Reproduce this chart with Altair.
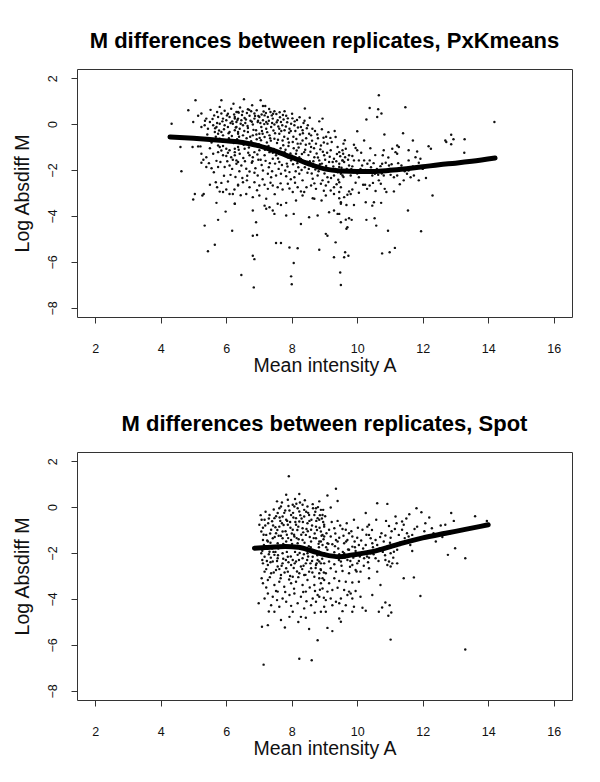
import altair as alt
import pandas as pd

# ---------------- data ----------------
top_pts = [
    (5.06, 1.04), (5.85, 1.04), (4.84, 0.60), (6.22, 0.89), (5.80, 0.75), (6.15, 0.67), (5.24, 0.46),
    (5.14, 0.36), (4.99, 0.09), (5.72, 0.53), (5.85, 0.46), (6.36, 0.53), (5.39, 0.24), (5.50, 0.09),
    (5.75, 0.31), (5.90, 0.24), (6.00, 0.17), (6.10, 0.31), (6.26, 0.24), (6.31, 0.09), (4.33, 0.02),
    (5.24, -0.13), (5.34, -0.05), (5.44, -0.20), (5.60, -0.05), (5.70, -0.13), (5.80, 0.02), (5.95, -0.05),
    (6.05, -0.13), (6.20, 0.02), (5.65, -0.34), (5.75, -0.42), (5.85, -0.34), (5.90, -0.49), (6.10, -0.34),
    (6.26, -0.27), (6.36, -0.34), (5.80, -0.64), (4.60, -1.00), (4.97, -1.00), (5.14, -0.97), (5.21, -0.97),
    (5.75, -0.93), (5.80, -1.00), (5.90, -0.95), (6.00, -1.07), (6.10, -1.14), (6.26, -1.07), (6.36, -1.00),
    (5.24, -1.29), (5.39, -1.44), (5.60, -1.29), (5.75, -1.22), (5.90, -1.36), (6.00, -1.39), (6.15, -1.44),
    (6.26, -1.36), (6.31, -1.58), (6.36, -1.65), (5.24, -1.68), (5.39, -1.87), (5.55, -1.92), (5.75, -1.87),
    (5.95, -1.87), (6.10, -1.80), (4.63, -2.05), (6.13, -2.21), (5.50, -2.64), (5.68, -2.53), (5.85, -2.56),
    (5.72, -2.75), (5.80, -2.94), (5.90, -2.96), (6.00, -2.85), (6.10, -3.04), (6.20, -3.04), (5.04, -3.04),
    (5.31, -3.04), (5.27, -3.11), (4.99, -3.28), (5.70, -3.43), (6.36, -2.67), (6.26, -3.47), (5.98, -3.81),
    (5.75, -4.17), (5.34, -4.42), (6.18, -4.64), (5.65, -5.25), (5.44, -5.54),
    (6.54, 1.08), (7.05, 1.04), (7.12, 0.79), (7.19, 0.79), (6.66, 0.65), (6.76, 0.56), (8.40, 0.68),
    (7.78, 0.56), (7.35, 0.53), (7.47, 0.56), (6.31, 0.53), (6.38, 0.50), (6.26, 0.31), (6.36, 0.24),
    (6.46, 0.17), (6.56, 0.27), (6.71, 0.36), (6.86, 0.24), (7.01, 0.31), (7.17, 0.38), (7.27, 0.31),
    (7.42, 0.24), (7.57, 0.17), (7.67, 0.09), (7.83, 0.36), (7.98, 0.02), (8.08, -0.05), (8.94, 0.24),
    (8.84, 0.12), (6.86, 0.46), (6.96, 0.09), (7.12, 0.17), (7.22, 0.09), (6.31, -0.13), (6.41, -0.20),
    (6.51, -0.05), (6.66, -0.17), (6.81, -0.02), (6.91, -0.27), (7.07, -0.13), (7.22, -0.20), (7.37, -0.13),
    (7.47, -0.02), (7.62, -0.20), (7.78, -0.27), (7.93, -0.20), (8.28, -0.13), (8.33, -0.27), (8.53, -0.42),
    (8.59, -0.49), (8.97, -0.59), (9.34, -0.56), (6.36, -0.42), (6.51, -0.49), (6.66, -0.34), (6.81, -0.49),
    (7.01, -0.42), (7.17, -0.56), (7.32, -0.49), (7.47, -0.64), (7.62, -0.42), (7.72, -0.71), (7.88, -0.64),
    (8.03, -0.78), (8.18, -0.85), (8.33, -0.71), (8.43, -0.90), (8.59, -1.00), (8.74, -0.85), (8.89, -0.93),
    (9.09, -0.85), (9.19, -1.14), (9.40, -1.00), (9.55, -1.14), (6.26, -1.22), (6.41, -1.29), (6.56, -1.07),
    (6.71, -1.36), (6.81, -1.44), (6.86, -1.22), (7.01, -1.14), (7.17, -1.36), (7.32, -1.22), (7.42, -1.51),
    (7.52, -1.36), (7.62, -1.65), (7.78, -1.22), (7.88, -1.44), (7.98, -1.58), (8.13, -1.29), (8.23, -1.44),
    (8.38, -1.22), (8.48, -1.65), (8.69, -1.44), (8.84, -1.58), (8.99, -1.36), (9.14, -1.65), (9.29, -1.51),
    (9.45, -1.73), (9.55, -1.58), (6.31, -1.73), (6.46, -1.80), (6.61, -1.94), (6.71, -2.06), (6.86, -2.12),
    (6.96, -2.24), (7.12, -2.02), (7.27, -2.16), (7.37, -2.31), (7.52, -2.24), (7.67, -2.16), (7.83, -2.27),
    (7.93, -2.09), (8.08, -2.31), (8.23, -2.16), (8.33, -2.45), (8.48, -2.12), (8.64, -2.38), (8.79, -2.24),
    (8.94, -2.45), (9.09, -2.31), (9.29, -2.24), (9.50, -2.16), (9.60, -2.06), (6.36, -2.64), (6.51, -2.53),
    (6.71, -2.75), (6.86, -2.53), (7.01, -2.67), (7.17, -2.64), (7.27, -2.82), (7.42, -2.67), (7.57, -2.75),
    (7.72, -2.85), (7.88, -2.60), (8.03, -2.96), (8.18, -2.75), (8.28, -2.93), (8.38, -2.96), (8.59, -2.67),
    (8.74, -2.82), (8.89, -2.60), (9.04, -2.67), (9.19, -2.89), (9.29, -2.75), (9.45, -2.96), (6.26, -3.47),
    (6.61, -3.04), (6.81, -3.18), (7.01, -3.11), (7.22, -3.25), (7.17, -3.55), (7.32, -3.62), (7.57, -3.47),
    (7.67, -3.52), (7.83, -3.43), (8.13, -3.33), (8.33, -3.11), (8.64, -3.23), (8.69, -3.25), (8.91, -3.33),
    (9.04, -3.11), (9.29, -3.04), (9.50, -3.40), (9.60, -3.18), (6.81, -3.76), (6.91, -4.27), (7.22, -3.69),
    (7.42, -3.76), (7.47, -3.91), (7.83, -3.98), (8.06, -3.91), (8.28, -4.35), (8.53, -4.06), (8.79, -3.98),
    (9.14, -3.84), (9.29, -3.76), (9.40, -3.91), (9.50, -4.27), (6.81, -4.86), (6.94, -4.83), (7.52, -5.18),
    (7.67, -5.18), (7.93, -5.37), (8.18, -5.41), (8.84, -5.47), (9.04, -4.78), (9.09, -4.86), (9.34, -5.15),
    (6.81, -5.73), (6.86, -5.88), (6.46, -6.57), (8.06, -6.05), (7.98, -6.63), (8.00, -6.97), (9.29, -5.80),
    (9.48, -6.46), (9.50, -7.01), (6.84, -7.11),
    (10.66, 1.26), (10.38, 0.70), (10.64, 0.65), (10.74, 0.46), (10.61, 0.31), (10.28, 0.20), (11.47, 0.73),
    (10.00, -0.31), (10.83, -0.45), (10.21, -0.71), (11.70, -0.71), (12.69, -0.71), (12.72, -0.78),
    (12.87, -0.46), (12.94, -0.66), (12.87, -0.88), (13.28, -0.66), (14.19, 0.09), (13.27, -1.25),
    (12.18, -0.96), (12.25, -1.07), (9.45, -1.22), (9.57, -1.29), (9.65, -1.07), (9.63, -1.44), (9.55, -1.58),
    (9.75, -1.36), (9.85, -1.39), (9.95, -1.04), (10.00, -1.14), (9.90, -1.58), (9.60, -1.65), (10.05, -1.58),
    (10.21, -1.58), (10.31, -1.73), (10.38, -1.58), (10.81, -1.14), (10.78, -1.36), (11.07, -1.07),
    (11.22, -0.93), (11.27, -1.00), (11.22, -1.29), (11.17, -1.22), (11.57, -1.14), (11.83, -1.19),
    (11.78, -1.44), (11.93, -1.51), (11.88, -1.68), (11.57, -1.58), (10.76, -1.73), (10.71, -1.83),
    (10.97, -1.80), (10.87, -1.68), (9.45, -1.87), (9.75, -1.80), (9.85, -1.84), (9.55, -2.24), (9.80, -2.24),
    (10.05, -2.31), (10.21, -2.12), (10.46, -2.24), (10.54, -2.16), (10.64, -2.21), (10.81, -2.24),
    (11.02, -2.21), (11.12, -2.31), (11.22, -2.24), (11.42, -2.45), (11.52, -2.16), (11.63, -2.31),
    (11.73, -2.24), (11.88, -2.45), (11.57, -2.02), (9.45, -2.53), (9.50, -2.75), (9.75, -2.93), (9.85, -2.85),
    (9.80, -3.04), (9.70, -3.08), (10.05, -2.99), (10.18, -2.64), (10.24, -2.64), (10.38, -2.67),
    (10.48, -2.56), (10.56, -2.91), (10.66, -2.45), (10.84, -2.82), (10.89, -2.96), (11.12, -2.93),
    (9.45, -3.23), (9.50, -3.47), (9.67, -3.52), (9.90, -3.52), (10.26, -3.40), (10.46, -3.55), (10.51, -3.40),
    (10.73, -3.43), (12.30, -3.11), (11.55, -3.76), (9.45, -3.91), (9.65, -4.16), (9.75, -4.10), (9.83, -4.17),
    (10.28, -4.17), (10.53, -4.10), (10.58, -4.42), (9.70, -4.49), (9.67, -4.56), (10.94, -4.64),
    (11.95, -4.67), (9.63, -5.58), (9.60, -5.80), (9.73, -5.73), (10.76, -5.63), (10.99, -5.58), (11.15, -5.39),
]

# further points estimated in the densest part of the upper cloud
top_pts_dense = [
    (5.52, 0.62), (5.63, 0.38), (5.95, 0.58), (6.05, 0.45), (6.18, 0.12), (6.42, 0.72), (6.48, 0.40),
    (6.58, 0.05), (6.63, 0.48), (6.74, 0.15), (6.79, 0.82), (6.93, 0.60), (6.98, 0.35), (7.04, 0.05),
    (7.09, -0.30), (7.14, 0.55), (7.26, 0.02), (7.31, 0.66), (7.39, 0.38), (7.44, -0.28), (7.53, 0.44),
    (7.59, -0.10), (7.64, 0.30), (7.71, -0.05), (7.75, 0.20), (7.86, 0.08), (7.92, -0.38), (8.02, 0.25),
    (8.11, -0.30), (8.16, 0.18), (8.25, -0.45), (8.36, 0.05), (8.46, -0.18), (8.55, 0.28), (8.62, -0.72),
    (8.71, -0.30), (8.80, -0.62), (8.92, -0.22), (9.05, -0.55), (9.12, -0.35), (9.22, -0.78), (9.31, -0.30),
    (9.38, -1.30), (9.58, -0.85),
    (5.45, -0.62), (5.55, -0.80), (5.68, -0.55), (5.98, -0.70), (6.08, -0.62), (6.23, -0.82), (6.33, -0.66),
    (6.45, -0.75), (6.53, -0.90), (6.62, -0.62), (6.69, -1.02), (6.76, -0.75), (6.84, -0.92), (6.93, -0.66),
    (6.99, -0.88), (7.06, -0.70), (7.13, -1.00), (7.24, -0.80), (7.29, -0.95), (7.36, -0.72), (7.45, -1.08),
    (7.55, -0.82), (7.66, -1.05), (7.74, -0.92), (7.81, -1.12), (7.90, -0.95), (7.96, -1.28), (8.06, -1.05),
    (8.15, -1.15), (8.21, -1.02), (8.31, -1.30), (8.41, -1.12), (8.51, -1.35), (8.57, -1.20), (8.66, -1.62),
    (8.76, -1.28), (8.86, -1.75), (8.95, -1.20), (9.02, -1.55), (9.16, -1.42), (9.27, -1.85), (9.36, -1.62),
    (9.48, -1.40),
    (5.30, -1.55), (5.47, -1.70), (5.62, -2.10), (5.82, -1.65), (5.93, -2.25), (6.03, -1.62), (6.18, -1.95),
    (6.28, -2.30), (6.40, -2.05), (6.49, -2.35), (6.57, -1.62), (6.64, -2.25), (6.78, -1.68), (6.89, -1.92),
    (6.98, -1.55), (7.08, -1.78), (7.20, -1.60), (7.30, -1.88), (7.40, -2.05), (7.49, -1.72), (7.60, -1.95),
    (7.70, -1.78), (7.80, -2.02), (7.87, -1.85), (7.97, -2.40), (8.04, -1.75), (8.12, -2.05), (8.20, -1.88),
    (8.30, -2.00), (8.42, -1.70), (8.52, -1.95), (8.61, -2.15), (8.72, -1.98), (8.82, -2.05), (8.91, -1.90),
    (9.00, -2.15), (9.10, -2.00), (9.20, -2.35), (9.33, -1.95), (9.42, -2.42), (9.58, -2.30),
    (6.05, -2.50), (6.25, -2.85), (6.44, -3.10), (6.63, -2.45), (6.94, -2.88), (7.11, -2.40), (7.35, -2.55),
    (7.48, -3.05), (7.66, -2.58), (7.93, -2.80), (8.10, -2.55), (8.45, -2.75), (8.69, -2.58), (8.98, -2.90),
    (9.12, -2.52), (9.37, -2.62),
    (9.68, -1.95), (9.88, -2.10), (10.10, -1.95), (10.25, -2.00), (10.42, -1.88), (10.60, -1.95),
    (10.90, -2.05), (11.05, -1.75), (11.35, -1.80), (9.72, -1.55), (10.12, -1.25), (10.55, -1.35),
    (10.95, -1.45), (9.95, -2.55), (10.30, -2.82), (10.72, -2.60), (11.30, -2.62), (9.62, -0.70),
    (9.90, -0.90), (10.40, -1.05), (11.40, -0.40), (11.70, -1.85), (12.00, -1.95), (12.10, -2.35),
    (12.45, -1.75),
]

# the near-solid core of the upper cloud, around and above the fitted curve
top_pts_core = [
    (5.35, 0.15), (5.42, -0.45), (5.58, 0.22), (5.66, -0.18), (5.72, 0.05), (5.78, -0.28), (5.88, 0.12),
    (5.93, -0.22), (6.02, 0.38), (6.07, -0.40), (6.13, 0.05), (6.17, -0.52), (6.24, 0.42), (6.29, -0.15),
    (6.34, 0.18), (6.39, -0.55), (6.44, 0.02), (6.50, 0.55), (6.55, -0.30), (6.60, 0.20), (6.65, -0.08),
    (6.70, 0.62), (6.73, -0.55), (6.78, 0.10), (6.83, -0.25), (6.88, 0.35), (6.92, -0.45), (6.97, 0.15),
    (7.02, -0.60), (7.08, 0.42), (7.11, -0.42), (7.16, 0.00), (7.21, 0.48), (7.25, -0.35), (7.30, 0.15),
    (7.34, -0.62), (7.40, 0.05), (7.43, 0.45), (7.49, -0.40), (7.54, 0.08), (7.58, -0.68), (7.63, 0.52),
    (7.68, -0.30), (7.73, 0.40), (7.77, -0.55), (7.82, -0.10), (7.88, 0.25), (7.91, -0.80), (7.97, -0.30),
    (8.01, 0.45), (8.05, -0.55), (8.09, 0.12), (8.14, -0.65), (8.19, -0.15), (8.24, 0.30), (8.27, -0.85),
    (8.34, -0.40), (8.39, 0.15), (8.44, -0.62), (8.49, -0.05), (8.54, -0.85), (8.63, -0.20), (8.68, -1.05),
    (8.78, -0.45), (8.87, -1.10), (8.98, -0.80), (9.08, -1.25), (9.18, -0.60),
    (5.50, -1.05), (5.70, -1.60), (5.85, -1.15), (6.05, -1.25), (6.20, -1.55), (6.38, -1.12), (6.52, -1.48),
    (6.67, -1.25), (6.80, -1.62), (6.95, -1.32), (7.05, -1.55), (7.18, -1.12), (7.33, -1.70), (7.42, -1.25),
    (7.58, -1.50), (7.70, -1.30), (7.85, -1.72), (8.00, -1.38), (8.17, -1.70), (8.28, -1.52), (8.40, -1.88),
    (8.55, -1.62), (8.65, -1.85), (8.80, -1.45), (8.92, -1.72), (9.05, -1.82), (9.25, -1.65), (9.40, -2.10),
    (9.52, -1.90), (9.70, -2.05), (9.82, -1.95), (10.00, -2.15), (10.15, -1.80), (10.35, -2.10),
    (10.50, -1.70), (10.75, -2.15), (11.00, -1.95), (11.25, -1.70), (11.45, -2.05),
]

bot_pts = [
    (7.91, 1.34), (7.83, 0.54), (7.88, 0.32), (8.23, 0.57), (7.67, 0.03), (7.62, -0.05), (8.03, 0.10),
    (8.08, 0.03), (8.18, -0.05), (8.33, 0.10), (8.38, -0.12), (8.48, 0.03), (8.64, 0.13), (8.74, -0.05),
    (8.84, 0.25), (8.89, -0.12), (7.01, -0.77), (7.17, -0.55), (7.32, -0.34), (7.47, -0.48), (7.57, -0.26),
    (7.72, -0.41), (7.83, -0.55), (7.98, -0.34), (8.13, -0.48), (8.23, -0.19), (8.38, -0.41), (8.53, -0.34),
    (8.69, -0.34), (8.79, -0.48), (8.94, -0.34), (7.07, -1.06), (7.22, -1.21), (7.37, -0.99), (7.52, -1.14),
    (7.62, -0.85), (7.72, -1.06), (7.88, -0.77), (8.03, -0.99), (8.13, -0.77), (8.23, -0.63), (8.33, -0.92),
    (8.48, -0.70), (8.59, -0.99), (8.74, -0.85), (8.89, -1.06), (8.99, -0.77), (7.12, -1.43), (7.27, -1.50),
    (7.42, -1.36), (7.57, -1.57), (7.72, -1.36), (7.83, -1.50), (7.98, -1.43), (8.08, -1.28), (8.18, -1.57),
    (8.33, -1.43), (8.43, -1.21), (8.59, -1.50), (8.74, -1.36), (8.89, -1.50), (8.99, -1.28), (7.07, -2.01),
    (7.17, -2.16), (7.32, -1.94), (7.47, -2.08), (7.57, -2.23), (7.72, -2.01), (7.88, -2.16), (8.03, -2.30),
    (8.18, -2.08), (8.33, -2.23), (8.48, -2.01), (8.64, -2.16), (8.79, -2.30), (8.94, -2.08), (7.12, -2.45),
    (7.27, -2.52), (7.42, -2.37), (7.57, -2.59), (7.72, -2.45), (7.83, -2.66), (7.98, -2.52), (8.13, -2.37),
    (8.28, -2.59), (8.43, -2.45), (8.59, -2.66), (8.74, -2.52), (8.89, -2.45), (7.17, -2.81), (7.37, -2.88),
    (7.52, -2.74), (7.67, -2.96), (7.88, -2.81), (8.03, -3.03), (8.23, -2.88), (8.38, -2.96), (8.53, -2.81),
    (8.69, -3.03), (8.84, -2.88), (8.94, -3.10), (7.12, -3.32), (7.27, -3.17), (7.47, -3.39), (7.62, -3.25),
    (7.77, -3.47), (7.98, -3.32), (8.13, -3.25), (8.33, -3.39), (8.48, -3.17), (8.69, -3.39), (8.89, -3.32),
    (7.27, -3.76), (7.42, -3.90), (7.57, -3.68), (7.72, -3.98), (7.93, -3.83), (8.08, -3.76), (8.28, -3.90),
    (8.43, -3.68), (8.64, -3.98), (8.79, -3.83), (7.17, -3.98), (7.37, -4.27), (7.62, -4.34), (7.83, -4.12),
    (8.03, -4.56), (8.18, -4.19), (8.38, -4.41), (8.59, -4.27), (8.74, -4.12), (6.99, -4.19), (7.47, -4.56),
    (7.67, -4.92), (7.79, -5.24), (7.93, -4.78), (8.28, -4.78), (8.43, -4.82), (8.53, -5.31), (8.79, -5.80),
    (7.09, -5.21), (7.27, -5.14), (7.14, -6.86), (8.23, -6.60), (8.61, -6.67), (8.89, -4.56),
    (9.35, 0.80), (9.09, 0.51), (9.40, 0.27), (9.19, -0.02), (8.96, -0.12), (10.61, 0.17), (10.92, 0.14),
    (11.81, -0.05), (11.96, -0.22), (12.87, -0.26), (8.84, -0.55), (9.40, -0.60), (9.90, -0.55),
    (10.26, -0.26), (11.17, -0.41), (11.59, -0.31), (11.37, -0.63), (11.42, -0.77), (12.08, -0.70),
    (11.83, -0.85), (12.69, -0.77), (8.99, -0.85), (9.14, -0.99), (9.30, -0.92), (9.55, -0.95), (9.65, -0.99),
    (10.16, -0.99), (10.31, -0.85), (10.36, -0.77), (10.97, -0.82), (11.15, -0.95), (11.37, -0.99),
    (11.52, -1.14), (11.68, -1.21), (12.28, -0.92), (12.33, -1.14), (12.84, -1.14), (8.94, -1.21),
    (9.06, -1.14), (9.19, -1.28), (9.35, -1.43), (9.45, -1.33), (9.75, -1.14), (9.85, -1.28), (10.00, -1.33),
    (10.36, -1.21), (10.41, -1.36), (10.56, -1.43), (10.74, -1.14), (10.86, -1.24), (11.02, -1.33),
    (11.27, -1.21), (11.57, -1.28), (8.84, -1.50), (8.94, -1.65), (9.09, -1.57), (9.24, -1.62), (9.40, -1.50),
    (9.60, -1.57), (9.70, -1.43), (9.85, -1.72), (10.05, -1.65), (10.26, -1.65), (10.46, -1.57),
    (10.61, -1.65), (10.81, -1.50), (11.12, -1.72), (11.22, -1.86), (12.99, -1.79), (8.84, -1.94),
    (8.99, -2.01), (9.09, -1.86), (9.30, -1.97), (9.45, -2.05), (9.60, -2.01), (9.75, -1.86), (9.95, -1.91),
    (10.16, -1.97), (10.41, -2.01), (10.61, -1.86), (10.81, -1.79), (11.02, -2.01), (11.12, -1.94),
    (11.68, -1.91), (12.77, -2.08), (13.30, -2.23), (8.84, -2.37), (8.99, -2.45), (9.14, -2.37), (9.30, -2.49),
    (9.50, -2.37), (9.70, -2.30), (9.85, -2.52), (10.00, -2.45), (10.21, -2.23), (10.36, -2.20),
    (10.56, -2.23), (10.86, -2.30), (10.97, -2.37), (11.07, -2.45), (11.22, -2.45), (8.89, -2.74),
    (9.04, -2.88), (9.19, -2.66), (9.35, -2.81), (9.55, -2.78), (9.75, -2.88), (9.95, -2.74), (10.10, -2.81),
    (10.36, -2.66), (10.61, -2.81), (10.92, -2.52), (11.02, -2.59), (8.84, -3.10), (8.99, -3.17),
    (9.14, -3.32), (9.30, -3.10), (9.45, -3.22), (9.65, -3.25), (9.85, -3.28), (10.05, -3.25), (10.36, -3.10),
    (10.71, -3.39), (11.42, -3.10), (11.73, -3.06), (8.94, -3.54), (9.09, -3.68), (9.24, -3.61),
    (9.40, -3.51), (9.60, -3.61), (9.75, -3.68), (9.80, -3.76), (9.95, -3.65), (8.84, -3.90), (9.04, -4.05),
    (9.19, -3.98), (9.35, -4.12), (9.50, -3.98), (9.70, -3.83), (9.85, -3.98), (10.10, -3.90), (10.46, -3.83),
    (11.93, -3.87), (8.99, -4.34), (9.24, -4.27), (9.45, -4.19), (9.65, -4.27), (9.90, -4.34), (10.16, -4.38),
    (9.04, -4.56), (9.55, -4.53), (9.85, -4.56), (10.26, -4.51), (10.66, -4.56), (10.76, -4.37),
    (10.86, -4.15), (10.99, -4.27), (11.04, -4.59), (10.95, -4.73), (9.45, -4.85), (9.50, -4.99),
    (9.09, -5.26), (9.24, -5.40), (11.02, -5.77), (13.30, -6.20), (13.96, -0.60),
]

# further points estimated in the densest part of the lower cloud
bot_pts_dense = [
    (7.05, -0.35), (7.12, -0.90), (7.20, -0.20), (7.28, -0.70), (7.35, -1.55), (7.40, -0.62), (7.45, -0.10),
    (7.50, -0.88), (7.55, 0.25), (7.60, -1.25), (7.65, -0.60), (7.70, 0.20), (7.75, -0.78), (7.80, -0.15),
    (7.85, -1.20), (7.90, 0.05), (7.95, -0.65), (8.00, -1.15), (8.05, -0.45), (8.10, 0.35), (8.15, -1.35),
    (8.20, -0.85), (8.25, 0.20), (8.30, -0.50), (8.35, -1.10), (8.40, 0.30), (8.45, -0.95), (8.50, -0.25),
    (8.55, -1.30), (8.60, -0.55), (8.65, -0.05), (8.70, -1.15), (8.75, -0.60), (8.80, 0.00), (8.85, -0.90),
    (8.92, -0.50), (8.97, -1.40),
    (7.03, -1.75), (7.10, -2.30), (7.15, -1.65), (7.22, -2.70), (7.30, -2.05), (7.35, -2.40), (7.40, -1.80),
    (7.45, -2.85), (7.50, -1.95), (7.55, -2.35), (7.62, -2.70), (7.68, -1.75), (7.74, -2.25), (7.78, -2.85),
    (7.85, -1.95), (7.90, -2.40), (7.95, -3.00), (8.00, -1.70), (8.06, -2.65), (8.10, -1.95), (8.16, -2.80),
    (8.22, -2.30), (8.27, -1.80), (8.32, -2.70), (8.37, -2.05), (8.42, -2.95), (8.47, -2.30), (8.52, -1.70),
    (8.57, -2.45), (8.63, -2.85), (8.68, -1.90), (8.73, -2.65), (8.78, -2.10), (8.83, -1.75), (8.88, -2.70),
    (8.93, -2.25), (8.98, -2.85),
    (7.08, -3.10), (7.22, -3.50), (7.33, -3.05), (7.52, -3.65), (7.66, -3.10), (7.80, -3.70), (7.92, -3.15),
    (8.07, -3.55), (8.20, -3.05), (8.35, -3.70), (8.55, -3.50), (8.71, -3.65), (8.86, -3.60), (8.98, -3.95),
    (7.30, -4.55), (7.55, -4.05), (7.98, -4.30), (8.45, -4.10), (8.70, -4.60), (8.20, -5.00),
    (9.02, -0.40), (9.12, -1.60), (9.22, -0.65), (9.28, -2.10), (9.33, -1.15), (9.42, -1.80), (9.48, -0.80),
    (9.52, -2.55), (9.58, -1.25), (9.62, -2.20), (9.68, -0.70), (9.72, -1.85), (9.78, -2.60), (9.82, -1.05),
    (9.88, -2.20), (9.92, -1.50), (9.98, -2.80), (10.02, -0.90), (10.08, -2.15), (10.12, -1.45),
    (10.20, -2.55), (10.28, -1.20), (10.33, -2.40), (10.45, -1.00), (10.50, -2.05), (10.58, -0.55),
    (10.65, -2.35), (10.70, -1.30), (10.78, -1.95), (10.88, -0.60), (10.93, -1.70), (11.05, -1.05),
    (11.10, -2.20), (11.20, -0.70), (11.30, -1.55), (11.45, -1.35), (11.50, -0.50), (11.62, -1.65),
    (11.75, -0.95), (11.90, -1.40), (12.05, -1.05), (12.20, -0.45), (12.40, -1.50), (12.55, -0.80),
    (12.60, -1.30), (12.95, -0.60), (13.10, -1.05), (13.45, -0.90), (13.60, -0.40),
]

# the near-solid core of the lower cloud
bot_pts_core = [
    (7.08, -0.55), (7.14, -1.20), (7.19, -0.80), (7.25, -1.45), (7.30, -0.50), (7.34, -1.15), (7.39, -1.70),
    (7.43, -0.80), (7.48, -1.30), (7.52, -0.40), (7.56, -1.00), (7.59, -1.80), (7.63, -0.45), (7.67, -1.25),
    (7.70, -0.70), (7.74, -1.60), (7.77, -0.25), (7.81, -1.05), (7.86, -0.60), (7.89, -1.35), (7.93, -0.15),
    (7.96, -0.90), (8.01, -1.60), (8.04, -0.25), (8.07, -1.20), (8.11, -0.65), (8.14, 0.15), (8.17, -1.00),
    (8.21, -1.40), (8.26, -0.35), (8.29, -1.20), (8.34, -0.65), (8.39, -1.55), (8.44, -0.20), (8.49, -1.05),
    (8.54, -0.60), (8.58, -1.75), (8.62, -0.80), (8.67, -1.35), (8.72, -0.20), (8.77, -1.00), (8.82, -1.60),
    (8.86, -0.35), (8.91, -1.25), (8.96, -0.65),
    (7.10, -1.90), (7.24, -2.35), (7.36, -2.20), (7.44, -1.95), (7.58, -2.10), (7.69, -2.55), (7.82, -2.30),
    (7.97, -2.15), (8.09, -2.45), (8.24, -2.00), (8.36, -2.55), (8.50, -2.15), (8.62, -2.35), (8.76, -2.45),
    (8.90, -2.00),
    (9.05, -1.75), (9.18, -2.15), (9.32, -1.70), (9.44, -2.30), (9.56, -1.95), (9.66, -1.50), (9.79, -2.35),
    (9.93, -1.75), (10.05, -2.35), (10.18, -1.80), (10.30, -2.15), (10.48, -1.75), (10.68, -1.80),
    (10.85, -2.10), (11.00, -1.55),
]

top_fit_A = [4.28, 5.0, 5.5, 6.0, 6.5, 7.0, 7.5, 8.0, 8.5, 9.0, 9.5, 10.0, 10.5, 11.0, 11.5, 12.0, 12.5, 13.0, 13.5, 14.21]
top_fit_M = [-0.56, -0.62, -0.67, -0.73, -0.80, -0.95, -1.18, -1.45, -1.72, -1.95, -2.04, -2.06, -2.06, -2.01, -1.94, -1.86, -1.77, -1.70, -1.62, -1.48]
bot_fit_A = [6.86, 7.2, 7.8, 8.2, 8.6, 9.0, 9.45, 9.85, 10.5, 11.3, 12.0, 12.7, 13.3, 14.0]
bot_fit_M = [-1.79, -1.76, -1.72, -1.75, -1.90, -2.07, -2.16, -2.08, -1.93, -1.60, -1.34, -1.14, -0.97, -0.77]

x_ticks = [2, 4, 6, 8, 10, 12, 14, 16]
y_ticks = [-8, -6, -4, -2, 0, 2]
titles = ["M differences between replicates, PxKmeans", "M differences between replicates, Spot"]

FONT = "Liberation Sans"
W, H = 495, 248


def panel(pts, fitA, fitM, title):
    dp = pd.DataFrame(pts, columns=["A", "M"])
    dl = pd.DataFrame({"A": fitA, "M": fitM})
    xs = alt.Scale(domain=[1.44, 16.56], nice=False, zero=False)
    ys = alt.Scale(domain=[-8.4, 2.4], nice=False, zero=False)
    xax = alt.Axis(values=x_ticks, title="Mean intensity A", grid=False, domain=False,
                   tickSize=6, tickColor="#333", tickWidth=1, labelPadding=19, labelFontSize=12.5,
                   labelFont=FONT, labelColor="#111", labelFlush=False, titleFont=FONT,
                   titleFontSize=19.5, titleFontWeight="normal", titleColor="#111", titlePadding=2)
    yax = alt.Axis(values=y_ticks, title="Log Absdiff M", grid=False, domain=False,
                   tickSize=6, tickColor="#333", tickWidth=1, labelPadding=12, labelFontSize=12.5,
                   labelFont=FONT, labelColor="#111", labelAngle=-90, labelAlign="center",
                   labelBaseline="bottom", labelFlush=False, titleFont=FONT, titleFontSize=19.5,
                   titleFontWeight="normal", titleColor="#111", titlePadding=14)
    dots = alt.Chart(dp).mark_circle(size=6, color="#111", opacity=1).encode(
        x=alt.X("A:Q", scale=xs, axis=xax),
        y=alt.Y("M:Q", scale=ys, axis=yax),
    )
    fit = alt.Chart(dl).mark_line(color="#000", strokeWidth=5, interpolate="monotone",
                                  strokeCap="round").encode(
        x=alt.X("A:Q", scale=xs),
        y=alt.Y("M:Q", scale=ys),
    )
    return alt.layer(dots, fit).properties(
        width=W, height=H,
        title=alt.TitleParams(title, font=FONT, fontSize=22, fontWeight="bold", color="#000",
                              anchor="middle", frame="group", offset=16),
    )


chart = alt.vconcat(
    panel(top_pts + top_pts_dense + top_pts_core, top_fit_A, top_fit_M, titles[0]),
    panel(bot_pts + bot_pts_dense + bot_pts_core, bot_fit_A, bot_fit_M, titles[1]),
    spacing=36,
).configure_view(stroke="#333", strokeWidth=1).properties(
    padding={"left": 3, "top": 21, "right": 5, "bottom": 5}, background="white"
)

chart.save("out.html", embed_options={"renderer": "svg", "actions": False})
